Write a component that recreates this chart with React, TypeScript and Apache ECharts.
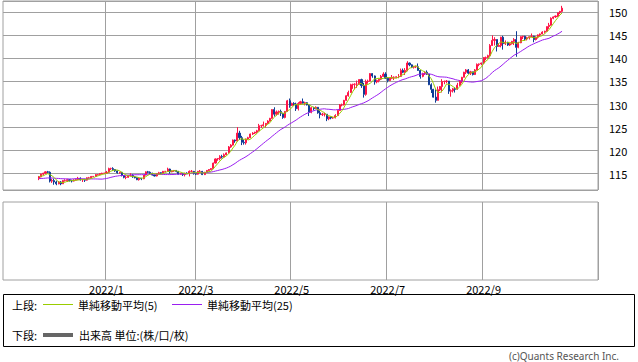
import React, { useEffect, useRef } from 'react';
import * as echarts from 'echarts';

// ---------- data ----------
// category axis: consecutive weekdays starting at this date
const firstCategoryDate = [2021, 10, 28]; // y, m, d
const categoryCount = 273;
// first date that has a candle
const firstCandleDate = '2021/11/19';
// months that receive a grid line and a label
const markedMonths = ['2022/1', '2022/3', '2022/5', '2022/7', '2022/9'];

// 24 closes before the first candle (only used for the moving averages)
const priorCloses = [
  114.3, 114.4, 114.3, 114.0, 113.5, 113.7, 114.2, 113.8, 113.6, 114.0, 114.0, 113.9,
  114.1, 113.7, 113.4, 112.9, 112.9, 113.9, 114.1, 113.9, 114.1, 114.8, 114.1, 114.3,
];

// candles: [open, close, low, high]
const nov2021 = [
  [114.0, 114.3, 113.6, 114.5], [114.3, 114.9, 114.2, 115.0], [114.9, 115.1, 114.6, 115.2],
  [115.1, 115.4, 114.9, 115.5], [115.4, 115.3, 115.1, 115.6], [115.3, 113.4, 113.1, 115.5],
  [113.4, 113.5, 113.0, 113.9], [113.5, 113.2, 112.6, 113.9],
];
const dec2021 = [
  [113.2, 112.8, 112.5, 113.5], [112.8, 113.2, 112.7, 113.4], [113.2, 112.8, 112.5, 113.4],
  [112.8, 113.5, 112.8, 113.6], [113.5, 113.5, 113.3, 113.8], [113.5, 113.7, 113.2, 113.9],
  [113.7, 113.5, 113.3, 113.8], [113.5, 113.4, 113.1, 113.7], [113.4, 113.6, 113.3, 113.8],
  [113.6, 113.7, 113.5, 113.9], [113.7, 114.0, 113.6, 114.3], [114.0, 113.7, 113.5, 114.2],
  [113.7, 113.7, 113.2, 113.9], [113.7, 113.6, 113.2, 113.9], [113.6, 114.1, 113.5, 114.2],
  [114.1, 114.1, 113.9, 114.3], [114.1, 114.4, 114.0, 114.5], [114.4, 114.4, 114.3, 114.5],
  [114.4, 114.8, 114.3, 114.9], [114.8, 114.8, 114.6, 114.9], [114.8, 115.0, 114.7, 115.1],
  [115.0, 115.1, 114.9, 115.2], [115.1, 115.1, 114.9, 115.2],
];
const jan2022 = [
  [115.1, 115.3, 115.0, 115.6], [115.3, 116.1, 115.2, 116.3], [116.1, 116.1, 115.8, 116.3],
  [116.1, 115.9, 115.6, 116.4], [115.9, 115.6, 115.4, 116.0], [115.6, 115.2, 115.0, 115.7],
  [115.2, 115.3, 115.0, 115.4], [115.3, 114.6, 114.4, 115.3], [114.6, 114.2, 114.0, 114.7],
  [114.2, 114.2, 113.8, 114.5], [114.2, 114.6, 114.1, 114.7], [114.6, 114.6, 114.4, 115.1],
  [114.6, 114.3, 114.1, 114.9], [114.3, 114.1, 114.0, 114.5], [114.1, 113.7, 113.6, 114.2],
  [113.7, 114.0, 113.5, 114.1], [114.0, 113.9, 113.6, 114.1], [113.9, 114.7, 113.8, 114.7],
  [114.7, 115.4, 114.6, 115.5], [115.4, 115.3, 115.1, 115.6], [115.3, 115.1, 114.9, 115.5],
];
const feb2022 = [
  [115.1, 114.7, 114.6, 115.2], [114.7, 114.5, 114.4, 114.8], [114.5, 115.0, 114.4, 115.1],
  [115.0, 115.2, 114.8, 115.4], [115.2, 115.1, 114.9, 115.3], [115.1, 115.5, 115.0, 115.6],
  [115.5, 115.5, 115.3, 115.6], [115.5, 116.0, 115.4, 116.3], [116.0, 115.4, 115.0, 116.1],
  [115.4, 115.6, 115.3, 115.7], [115.6, 115.7, 115.4, 115.8], [115.7, 115.5, 115.3, 115.8],
  [115.5, 114.9, 114.8, 115.6], [114.9, 115.0, 114.8, 115.2], [115.0, 114.8, 114.5, 115.1],
  [114.8, 115.1, 114.4, 115.2], [115.1, 115.0, 114.9, 115.3], [115.0, 115.5, 114.4, 115.7],
  [115.5, 115.5, 115.3, 115.8], [115.5, 115.0, 114.8, 115.6],
];
const mar2022 = [
  [115.0, 114.9, 114.7, 115.2], [114.9, 115.5, 114.8, 115.6], [115.5, 115.5, 115.3, 115.8],
  [115.5, 114.8, 114.7, 115.6], [114.8, 115.3, 114.7, 115.4], [115.3, 115.7, 115.2, 115.8],
  [115.7, 115.9, 115.6, 116.0], [115.9, 116.1, 115.8, 116.2], [116.1, 117.3, 116.0, 117.4],
  [117.3, 118.2, 117.2, 118.3], [118.2, 118.3, 117.8, 118.4], [118.3, 118.7, 117.9, 119.0],
  [118.7, 118.6, 118.3, 119.1], [118.6, 119.1, 118.5, 119.4], [119.1, 119.5, 119.0, 119.6],
  [119.5, 120.8, 119.4, 121.0], [120.8, 121.2, 120.6, 121.4], [121.2, 122.3, 121.1, 122.4],
  [122.3, 122.1, 121.7, 122.4], [122.1, 123.8, 122.0, 125.1], [123.8, 122.8, 122.3, 124.3],
  [122.8, 121.8, 121.2, 123.2], [121.8, 121.7, 121.3, 122.4],
];
const apr2022 = [
  [121.7, 122.5, 121.3, 122.6], [122.5, 122.8, 122.3, 123.0], [122.8, 123.6, 122.7, 123.7],
  [123.6, 123.8, 123.4, 124.0], [123.8, 124.0, 123.6, 124.1], [124.0, 124.3, 123.7, 124.5],
  [124.3, 125.4, 124.2, 125.8], [125.4, 125.4, 124.9, 125.6], [125.4, 125.6, 125.2, 126.3],
  [125.6, 125.9, 125.0, 126.0], [125.9, 126.4, 125.8, 126.6], [126.4, 127.0, 126.3, 127.1],
  [127.0, 128.9, 126.9, 129.0], [128.9, 127.9, 127.4, 129.4], [127.9, 128.4, 127.6, 128.7],
  [128.4, 128.5, 127.8, 128.7], [128.5, 128.1, 127.5, 128.9], [128.1, 127.2, 126.9, 128.2],
  [127.2, 128.5, 127.0, 128.6], [128.5, 130.8, 128.4, 131.0], [130.8, 129.8, 129.3, 131.3],
];
const may2022 = [
  [129.8, 130.2, 129.7, 130.4], [130.2, 130.1, 129.7, 130.5], [130.1, 129.1, 128.6, 130.4],
  [129.1, 130.2, 128.7, 130.5], [130.2, 130.6, 129.9, 130.8], [130.6, 130.3, 130.2, 131.3],
  [130.3, 130.4, 129.8, 130.6], [130.4, 129.9, 129.8, 130.5], [129.9, 128.3, 127.5, 130.1],
  [128.3, 129.3, 128.1, 129.5], [129.3, 129.1, 128.7, 129.5], [129.1, 129.4, 129.0, 129.6],
  [129.4, 128.2, 128.0, 129.4], [128.2, 127.8, 127.0, 128.7], [127.8, 127.9, 127.5, 128.2],
  [127.9, 127.9, 127.4, 128.2], [127.9, 126.9, 126.4, 127.9], [126.9, 127.3, 126.6, 127.4],
  [127.3, 127.1, 126.8, 127.4], [127.1, 127.1, 126.9, 127.3], [127.1, 127.6, 127.0, 127.9],
  [127.6, 128.7, 127.6, 128.9],
];
const jun2022 = [
  [128.7, 129.9, 128.6, 130.1], [129.9, 129.9, 129.6, 130.2], [129.9, 130.9, 129.8, 131.0],
  [130.9, 131.9, 130.8, 132.0], [131.9, 132.6, 131.7, 133.0], [132.6, 134.3, 132.5, 134.5],
  [134.3, 134.4, 133.4, 134.5], [134.4, 134.4, 133.3, 134.6], [134.4, 134.4, 133.6, 135.2],
  [134.4, 135.4, 134.3, 135.5], [135.4, 134.1, 133.6, 135.6], [134.1, 132.2, 131.5, 134.7],
  [132.2, 135.0, 131.9, 135.4], [135.0, 135.1, 134.5, 135.4], [135.1, 136.7, 135.0, 136.8],
  [136.7, 136.2, 135.8, 136.8], [136.2, 134.9, 134.3, 136.3], [134.9, 135.2, 134.6, 135.4],
  [135.2, 135.5, 134.8, 135.6], [135.5, 136.1, 135.3, 136.4], [136.1, 136.6, 136.0, 137.0],
  [136.6, 135.7, 135.6, 137.0],
];
const jul2022 = [
  [135.7, 135.2, 134.8, 135.9], [135.2, 135.7, 135.1, 135.8], [135.7, 135.9, 135.5, 136.4],
  [135.9, 135.9, 135.3, 136.1], [135.9, 136.0, 135.7, 136.1], [136.0, 136.1, 135.7, 136.6],
  [136.1, 137.4, 136.0, 137.8], [137.4, 137.0, 136.8, 137.8], [137.0, 137.4, 136.4, 137.9],
  [137.4, 139.0, 137.2, 139.4], [139.0, 138.6, 138.3, 139.1], [138.6, 138.1, 137.9, 138.7],
  [138.1, 138.2, 137.8, 138.4], [138.2, 138.2, 137.9, 138.4], [138.2, 137.4, 137.3, 138.9],
  [137.4, 136.1, 135.6, 137.5], [136.1, 136.7, 135.9, 136.9], [136.7, 137.0, 136.4, 137.2],
  [137.0, 136.6, 136.4, 137.4], [136.6, 134.3, 134.2, 136.6], [134.3, 133.3, 132.5, 134.6],
];
const aug2022 = [
  [133.3, 131.6, 131.5, 133.4], [131.6, 130.9, 130.4, 133.3], [130.9, 133.2, 130.9, 133.9],
  [133.2, 133.9, 132.9, 134.0], [133.9, 135.0, 132.6, 135.5], [135.0, 135.0, 134.4, 135.2],
  [135.0, 135.1, 134.6, 135.3], [135.1, 132.9, 132.3, 135.1], [132.9, 133.0, 131.7, 133.3],
  [133.0, 133.4, 132.6, 133.6], [133.4, 133.3, 132.6, 133.8], [133.3, 134.2, 133.2, 134.7],
  [134.2, 135.1, 134.0, 135.3], [135.1, 135.9, 134.6, 136.0], [135.9, 137.0, 135.9, 137.1],
  [137.0, 137.5, 136.6, 137.7], [137.5, 136.8, 136.6, 137.7], [136.8, 137.1, 136.4, 137.3],
  [137.1, 136.5, 136.3, 137.1], [136.5, 137.5, 136.4, 137.7], [137.5, 138.7, 137.4, 138.9],
  [138.7, 138.8, 138.3, 138.9], [138.8, 139.0, 138.5, 139.1],
];
const sep2022 = [
  [139.0, 140.2, 138.8, 140.3], [140.2, 140.2, 139.6, 140.4], [140.2, 140.6, 140.0, 140.8],
  [140.6, 142.8, 140.5, 143.1], [142.8, 143.9, 142.7, 145.0], [143.9, 144.1, 142.8, 144.6],
  [144.1, 142.6, 141.5, 144.1], [142.6, 142.8, 142.5, 143.3], [142.8, 144.6, 142.4, 144.7],
  [144.6, 143.2, 141.9, 144.9], [143.2, 143.5, 142.9, 143.9], [143.5, 142.9, 142.7, 143.6],
  [142.9, 143.2, 142.7, 143.4], [143.2, 143.7, 143.0, 143.8], [143.7, 144.1, 142.9, 144.4],
  [144.1, 142.4, 140.35, 145.9], [142.4, 143.4, 142.2, 143.6], [143.4, 144.7, 143.3, 144.8],
  [144.7, 144.8, 144.2, 144.9], [144.8, 144.2, 143.9, 144.9], [144.2, 144.5, 143.9, 144.7],
  [144.5, 144.7, 144.1, 144.8],
];
const oct2022 = [
  [144.7, 144.8, 144.6, 145.4], [144.8, 144.1, 143.5, 144.9], [144.1, 144.6, 143.9, 144.8],
  [144.6, 145.1, 144.3, 145.2], [145.1, 145.3, 144.8, 145.4], [145.3, 145.7, 145.2, 145.9],
  [145.7, 145.9, 145.4, 146.0], [145.9, 146.9, 145.8, 146.9], [146.9, 147.2, 146.4, 147.7],
  [147.2, 148.7, 147.1, 148.9], [148.7, 149.0, 148.5, 149.1], [149.0, 149.2, 148.8, 149.3],
  [149.2, 149.9, 149.0, 149.9], [149.9, 150.2, 149.6, 150.3], [150.2, 150.9, 150.0, 151.4],
];

// ---------- style constants ----------
const UP = '#ff1447';
const DOWN = '#0f3c96';
const MA5_COLOR = '#99cc00';
const MA25_COLOR = '#9a1ff0';
const GRID_COLOR = '#a0a0a0';
const FONT = "'Noto Sans CJK JP', 'Noto Sans', sans-serif";

function buildCategories(): string[] {
  const out: string[] = [];
  const d = new Date(Date.UTC(firstCategoryDate[0], firstCategoryDate[1] - 1, firstCategoryDate[2]));
  while (out.length < categoryCount) {
    const wd = d.getUTCDay();
    if (wd !== 0 && wd !== 6) {
      out.push(`${d.getUTCFullYear()}/${d.getUTCMonth() + 1}/${d.getUTCDate()}`);
    }
    d.setUTCDate(d.getUTCDate() + 1);
  }
  return out;
}

function yearMonth(s: string): string {
  const p = s.split('/');
  return `${p[0]}/${p[1]}`;
}

function movingAverage(all: number[], n: number, offset: number): number[] {
  const out: number[] = [];
  for (let i = offset; i < all.length; i++) {
    let sum = 0;
    let cnt = 0;
    for (let j = Math.max(0, i - n + 1); j <= i; j++) {
      sum += all[j];
      cnt++;
    }
    out.push(+(sum / cnt).toFixed(3));
  }
  return out;
}

export default function App() {
  const ref = useRef<HTMLDivElement>(null);

  useEffect(() => {
    if (!ref.current) return;
    const chart = echarts.init(ref.current, undefined, { renderer: 'svg' });

    const categories = buildCategories();
    const candles = [
      ...nov2021, ...dec2021, ...jan2022, ...feb2022, ...mar2022, ...apr2022,
      ...may2022, ...jun2022, ...jul2022, ...aug2022, ...sep2022, ...oct2022,
    ];
    const start = categories.indexOf(firstCandleDate);
    const dates = categories.slice(start, start + candles.length);
    const closes = candles.map((c) => c[1]);
    const allCloses = [...priorCloses, ...closes];
    const ma5 = movingAverage(allCloses, 5, priorCloses.length);
    const ma25 = movingAverage(allCloses, 25, priorCloses.length);

    const isMark = (index: number): boolean => {
      const cat = categories[index];
      if (!cat) return false;
      const ym = yearMonth(cat);
      if (markedMonths.indexOf(ym) < 0) return false;
      return index === 0 || yearMonth(categories[index - 1]) !== ym;
    };

    const splitLine = {
      show: true,
      interval: (index: number) => isMark(index),
      lineStyle: { color: GRID_COLOR, width: 1 },
    };

    const textStyle = { fontFamily: FONT, fontSize: 11, fill: '#000' };

    chart.setOption({
      animation: false,
      backgroundColor: '#ffffff',
      grid: [
        { left: 3, right: 40, top: 1, height: 189, show: true, borderColor: GRID_COLOR, borderWidth: 1 },
        { left: 3, right: 40, top: 202, height: 78, show: true, borderColor: GRID_COLOR, borderWidth: 1 },
      ],
      xAxis: [
        {
          type: 'category',
          gridIndex: 0,
          data: categories,
          boundaryGap: true,
          axisLine: { show: false },
          axisTick: { show: false },
          axisLabel: { show: false },
          splitLine,
        },
        {
          type: 'category',
          gridIndex: 1,
          data: categories,
          boundaryGap: true,
          axisLine: { show: false },
          axisTick: { show: false },
          axisLabel: {
            show: true,
            interval: (index: number) => isMark(index),
            formatter: (v: string) => yearMonth(v),
            color: '#000',
            fontSize: 11,
            fontFamily: FONT,
            margin: 3,
          },
          splitLine,
        },
      ],
      yAxis: [
        {
          type: 'value',
          gridIndex: 0,
          position: 'right',
          min: 111.46,
          max: 152.45,
          minInterval: 5,
          maxInterval: 5,
          axisLine: { show: false },
          axisTick: { show: false },
          splitLine: { show: true, lineStyle: { color: GRID_COLOR, width: 1 } },
          axisLabel: {
            color: '#000',
            fontSize: 11,
            fontFamily: FONT,
            margin: 11,
            showMinLabel: false,
            showMaxLabel: false,
          },
        },
        { type: 'value', gridIndex: 1, min: 0, max: 1, show: false },
      ],
      series: [
        {
          type: 'candlestick',
          xAxisIndex: 0,
          yAxisIndex: 0,
          data: candles.map((c, i) => [dates[i], c[0], c[1], c[2], c[3]]),
          encode: { x: 0, y: [1, 2, 3, 4] },
          barWidth: 1.6,
          itemStyle: {
            color: UP,
            color0: DOWN,
            borderColor: UP,
            borderColor0: DOWN,
            borderWidth: 1,
          },
        },
        {
          type: 'line',
          xAxisIndex: 0,
          yAxisIndex: 0,
          data: ma25.map((v, i) => [dates[i], v]),
          showSymbol: false,
          symbol: 'none',
          lineStyle: { color: MA25_COLOR, width: 1 },
          itemStyle: { color: MA25_COLOR },
          z: 3,
        },
        {
          type: 'line',
          xAxisIndex: 0,
          yAxisIndex: 0,
          data: ma5.map((v, i) => [dates[i], v]),
          showSymbol: false,
          symbol: 'none',
          lineStyle: { color: MA5_COLOR, width: 1 },
          itemStyle: { color: MA5_COLOR },
          z: 4,
        },
      ],
      graphic: [
        {
          type: 'rect',
          shape: { x: 3.5, y: 294.5, width: 631, height: 52 },
          style: { fill: 'none', stroke: '#000', lineWidth: 1 },
        },
        { type: 'text', x: 12, y: 305, style: { ...textStyle, text: '上段:', verticalAlign: 'middle' } },
        { type: 'line', shape: { x1: 43, y1: 304.5, x2: 73, y2: 304.5 }, style: { stroke: MA5_COLOR, lineWidth: 1 } },
        { type: 'text', x: 78, y: 305, style: { ...textStyle, text: '単純移動平均(5)', verticalAlign: 'middle' } },
        { type: 'line', shape: { x1: 172, y1: 304.5, x2: 202, y2: 304.5 }, style: { stroke: MA25_COLOR, lineWidth: 1 } },
        { type: 'text', x: 207, y: 305, style: { ...textStyle, text: '単純移動平均(25)', verticalAlign: 'middle' } },
        { type: 'text', x: 12, y: 335, style: { ...textStyle, text: '下段:', verticalAlign: 'middle' } },
        { type: 'line', shape: { x1: 43, y1: 335, x2: 73, y2: 335 }, style: { stroke: '#666666', lineWidth: 4 } },
        { type: 'text', x: 79, y: 335, style: { ...textStyle, text: '出来高 単位:(株/口/枚)', verticalAlign: 'middle' } },
        {
          type: 'text',
          x: 619,
          y: 356,
          style: {
            text: '(c)Quants Research Inc.',
            fontFamily: "'Noto Sans', sans-serif",
            fontSize: 10,
            fill: '#555555',
            align: 'right',
            verticalAlign: 'middle',
          },
        },
      ],
    });

    return () => chart.dispose();
  }, []);

  return (
    <div
      ref={ref}
      style={{ position: 'absolute', left: 0, top: 0, width: 638, height: 362 }}
    />
  );
}
